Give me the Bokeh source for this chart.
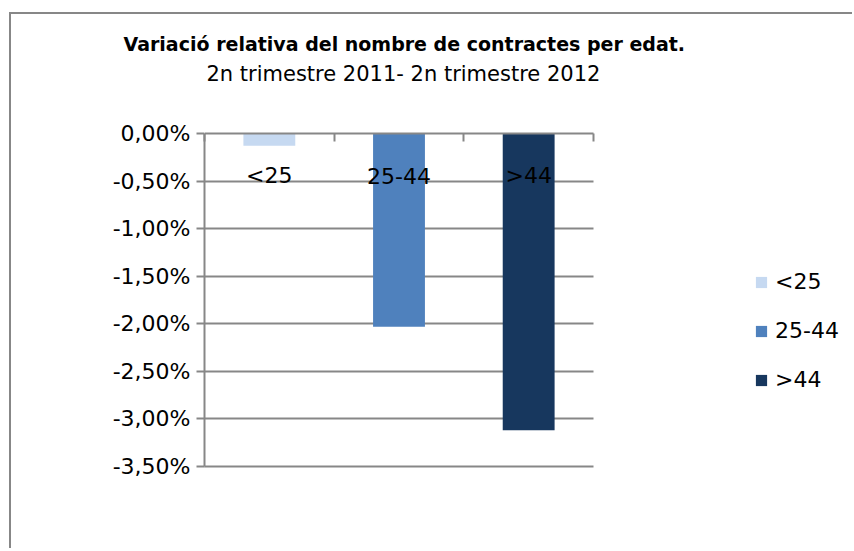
from bokeh.plotting import figure
from bokeh.models import (Range1d, LinearAxis, FixedTicker, Title, Legend, LegendItem,
                          ColumnDataSource)
from bokeh.core.properties import value, field
from bokeh.embed import file_html
from bokeh.resources import INLINE

# ---- data ----
categories = ["<25", "25-44", ">44"]
values = [-0.13, -2.03, -3.12]          # percent change
colors = ["#C6D9F1", "#4F81BD", "#17375E"]
y_ticks = [0.0, -0.5, -1.0, -1.5, -2.0, -2.5, -3.0, -3.5]
y_tick_labels = ["0,00%", "-0,50%", "-1,00%", "-1,50%", "-2,00%", "-2,50%", "-3,00%", "-3,50%"]
title_text = "Variació relativa del nombre de contractes per edat."
subtitle_text = "2n trimestre 2011- 2n trimestre 2012"

FONT = "DejaVu Sans"
GRAY = "#878787"

W, H = 843, 536
FL, FT, FR, FB = 193, 119, 582, 452     # plot-area box (pixels in the figure)

n = len(categories)
xpos = [i + 0.5 for i in range(n)]      # category slot centres
x_end = n * (W - FL) / (FR - FL)        # frame extends to the right edge (room for legend)

p = figure(width=W, height=H,
           x_range=Range1d(0, x_end), y_range=Range1d(y_ticks[-1], y_ticks[0]),
           output_backend="svg", toolbar_location=None,
           x_axis_location=None, y_axis_location=None,
           min_border_left=FL, min_border_top=FT,
           min_border_right=0, min_border_bottom=H - FB,
           styles={"margin-left": "9px", "margin-top": "12px",
                   "border-left": f"2px solid {GRAY}", "border-top": f"2px solid {GRAY}"})
p.outline_line_color = None
p.background_fill_color = "white"
p.border_fill_color = "white"

# left value axis
yax = LinearAxis(ticker=FixedTicker(ticks=y_ticks),
                 major_label_overrides={t: l for t, l in zip(y_ticks, y_tick_labels)})
yax.axis_line_color = GRAY
yax.axis_line_width = 2
yax.major_tick_line_color = GRAY
yax.major_tick_line_width = 2
yax.major_tick_out = 8
yax.major_tick_in = 0
yax.minor_tick_line_color = None
yax.major_label_standoff = 6
yax.major_label_text_font = FONT
yax.major_label_text_font_size = "22px"
yax.major_label_text_color = "black"
p.add_layout(yax, "left")

# horizontal grid, limited to the category area
p.xgrid.grid_line_color = None
g = p.ygrid[0]
g.ticker = FixedTicker(ticks=y_ticks)
if "cross_bounds" in g.properties():
    g.cross_bounds = (0, n)
    g.grid_line_color = GRAY
    g.grid_line_width = 2
else:
    g.grid_line_color = None
    inner = y_ticks[1:-1]
    p.segment(x0=[0] * len(inner), x1=[n] * len(inner), y0=inner, y1=inner,
              line_color=GRAY, line_width=2)

# bottom line (at -3,50%)
bax = LinearAxis(ticker=FixedTicker(ticks=[]), bounds=(0, n))
bax.axis_line_color = GRAY
bax.axis_line_width = 2
bax.major_tick_line_color = None
bax.minor_tick_line_color = None
bax.major_label_text_color = None
p.add_layout(bax, "below")

# category axis (top) with boundary ticks
xax = LinearAxis(ticker=FixedTicker(ticks=list(range(n + 1))), bounds=(0, n))
xax.axis_line_color = GRAY
xax.axis_line_width = 2
xax.major_tick_line_color = GRAY
xax.major_tick_line_width = 2
xax.major_tick_in = 8
xax.major_tick_out = 0
xax.minor_tick_line_color = None
xax.major_label_text_color = None
xax.major_label_standoff = 0
p.add_layout(xax, "above")

# blank spacer between the plot area and the titles (white, 1px tick)
spacer = LinearAxis(ticker=FixedTicker(ticks=[0]), bounds=(0, n))
spacer.axis_line_color = None
spacer.major_tick_line_color = "white"
spacer.major_tick_line_width = 1
spacer.minor_tick_line_color = None
spacer.major_tick_in = 0
spacer.major_tick_out = 43
spacer.major_label_text_color = None
spacer.major_label_standoff = 0
p.add_layout(spacer, "above")

# subtitle and main title
p.add_layout(Title(text=subtitle_text, align="left", offset=2, standoff=10,
                   text_font=FONT, text_font_style="normal", text_font_size="21px",
                   text_color="black"), "above")
p.add_layout(Title(text=title_text, align="left", offset=-81, standoff=0,
                   text_font=FONT, text_font_style="bold", text_font_size="19px",
                   text_color="black"), "above")

# bars
src = ColumnDataSource(dict(x=xpos, cat=categories, val=values, color=colors))
r = p.vbar(x="x", top=0, bottom="val", width=0.4, source=src,
           fill_color="color", line_color=None)

# category labels (below the axis line)
p.text(x="x", y=0, text="cat", source=src, y_offset=42,
       text_align="center", text_baseline="alphabetic",
       text_font=value(FONT), text_font_size="22px", text_color="black")

# legend
lg = Legend(items=[LegendItem(label=field("cat"), renderers=[r])],
            location=(550, 74), orientation="vertical")
lg.border_line_color = None
lg.background_fill_alpha = 0
lg.padding = 0
lg.margin = 0
lg.glyph_width = 14
lg.glyph_height = 14
lg.label_height = 14
lg.spacing = 24
lg.label_standoff = 7
lg.label_text_font = FONT
lg.label_text_font_size = "22px"
lg.label_text_color = "black"
p.add_layout(lg, "center")

open("out.html", "w").write(file_html(p, INLINE))
